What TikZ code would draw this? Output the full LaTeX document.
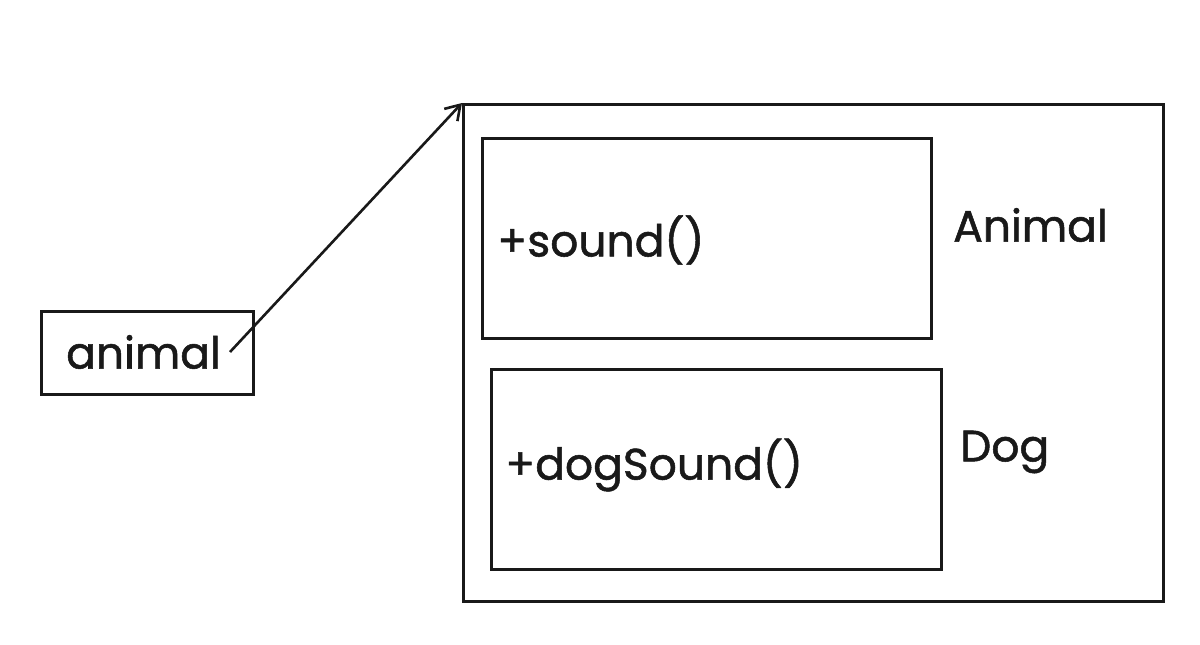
\documentclass[tikz,border=0pt]{standalone}
\usepackage{fontspec}
\usetikzlibrary{arrows.meta}
\setmainfont[FakeBold=1.2,AutoFakeBold=1.2]{Poppins}
\begin{document}
\begin{tikzpicture}[x=1pt,y=-1pt,
  box/.style={draw=black!90,line width=2.6pt,inner sep=0pt,anchor=north west},
  lbl/.style={font=\fontsize{44}{50}\selectfont,text=black!90,inner sep=0pt}]
\useasboundingbox[fill=white] (0,0) rectangle (1200,645);
\node[box,minimum width=212pt,minimum height=83pt] (ref) at (40,310) {};
\node[lbl,anchor=west] (reft) at (66,352) {animal};
\node[box,minimum width=700pt,minimum height=497pt] (outer) at (462,103) {};
\node[box,minimum width=449pt,minimum height=200pt] (b1) at (481,137) {};
\node[box,minimum width=450pt,minimum height=200pt] (b2) at (490,368) {};
\node[lbl,anchor=west] (t1) at (497,240) {+sound()};
\node[lbl,anchor=west] (t2) at (505,465) {+dogSound()};
\node[lbl,anchor=west] (n1) at (953,225) {Animal};
\node[lbl,anchor=west] (n2) at (960,452) {Dog};
\coordinate (s) at (230,352);
\draw[line width=2.6pt,black!90,-{Straight Barb[length=14pt,width=18pt]}] (s) -- (outer.north west);
\end{tikzpicture}
\end{document}
